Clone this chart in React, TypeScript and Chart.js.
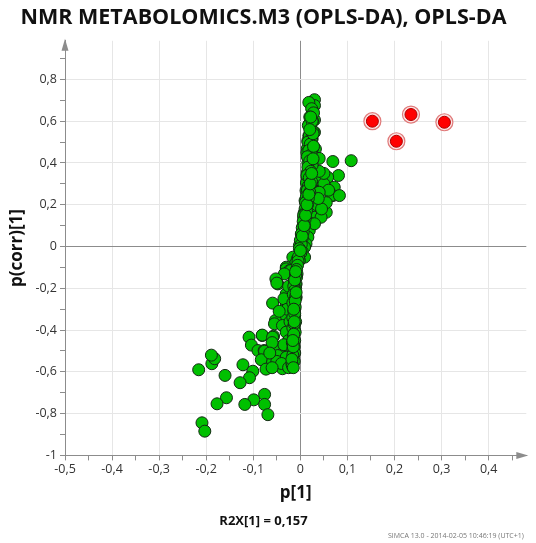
import React, { useEffect, useRef } from "react";
import { Chart, registerables } from "chart.js";

Chart.register(...registerables);

const titleText = "NMR METABOLOMICS.M3 (OPLS-DA), OPLS-DA";
const xTitle = "p[1]";
const yTitle = "p(corr)[1]";
const subText = "R2X[1] = 0,157";
const footerText = "SIMCA 13.0 - 2014-02-05 10:46:19 (UTC+1)";

const xTicks = [-0.5, -0.45, -0.4, -0.35, -0.3, -0.25, -0.2, -0.15, -0.1, -0.05, 0, 0.05, 0.1, 0.15, 0.2, 0.25, 0.3, 0.35, 0.4, 0.45];
const yTicks = [-1, -0.9, -0.8, -0.7, -0.6, -0.5, -0.4, -0.3, -0.2, -0.1, 0, 0.1, 0.2, 0.3, 0.4, 0.5, 0.6, 0.7, 0.8, 0.9];

// Red (class) points
const redP = [0.153, 0.204, 0.235, 0.306];
const redCorr = [0.6, 0.504, 0.632, 0.595];

// Green (variable) points: p[1]
const greenP = [
  0.030, 0.030, 0.026, 0.026, 0.030, 0.019, 0.022, 0.030, 0.018, 0.016,
  0.025, 0.023, 0.032, 0.015, 0.014, 0.020, 0.016, 0.040, 0.025, 0.016,
  0.023, 0.018, 0.026, 0.015, 0.033, 0.015, 0.023, 0.013, 0.019, 0.030,
  0.012, 0.037, 0.020, 0.010, 0.026, 0.012, 0.040, 0.026, 0.008, 0.030,
  0.007, 0.015, 0.023, 0.006, 0.019, 0.003, 0.012, 0.016, 0.001, 0.012,
  -0.002, 0.009, 0.004, -0.002, 0.009, -0.016, -0.006, -0.002, -0.010, -0.030,
  -0.030, -0.023, -0.020, -0.034, -0.007, -0.008, -0.052, -0.012, -0.048, -0.050,
  -0.009, -0.010, -0.023, -0.030, -0.009, -0.011, -0.059, -0.030, -0.012, -0.012,
  -0.016, -0.041, -0.038, -0.053, -0.013, -0.055, -0.038, -0.016, -0.016, -0.013,
  -0.013, -0.081, -0.109, -0.081, -0.057, -0.059, -0.014, -0.104, -0.020, -0.045,
  -0.090, -0.077, -0.045, -0.076, -0.014, -0.038, -0.020, -0.023, -0.048, -0.083,
  -0.016, -0.059, -0.027, -0.122, -0.188, -0.182, -0.189, -0.216, -0.073, -0.038,
  -0.101, -0.160, -0.108, -0.128, -0.076, -0.157, -0.099, -0.177, -0.118, -0.076,
  -0.069, -0.209, -0.203,
  0.069, 0.108, 0.081, 0.058, 0.072, 0.069, 0.047, 0.065, 0.047, 0.055,
  0.044, 0.030, 0.083,
  0.035, 0.050, 0.060, 0.040, 0.055, 0.035, 0.045, 0.038, 0.050, 0.040,
  -0.025, -0.035, -0.028, -0.045, -0.022, -0.030, -0.025, -0.035, -0.060, -0.030,
  -0.050, -0.065, -0.040, -0.060, -0.025,
  0.018, 0.024, 0.028, 0.020, 0.026, 0.017, 0.022, 0.027, 0.019, 0.024,
  0.016, 0.021, 0.026, 0.018, 0.023, 0.015, 0.020, 0.025, 0.016, 0.022,
  0.014, 0.019, 0.024,
  0.017, 0.015, 0.020, 0.013, 0.017, 0.011, 0.015, 0.010, 0.013, 0.007,
  0.010, 0.006, 0.009, 0.004, 0.006, 0.002, 0.004, 0.000, 0.002, -0.002,
  0.001, -0.004, -0.005, -0.006, -0.008, -0.010,
  -0.010, -0.013, -0.011, -0.014, -0.012, -0.015, -0.010, -0.013, -0.016, -0.011,
  -0.014, -0.012, -0.016, -0.010, -0.013, -0.016, -0.011, -0.015, -0.012, -0.017,
  -0.013, -0.016, -0.012, -0.015, -0.013, -0.018,
  -0.012, -0.013, -0.014, -0.015, -0.016, -0.017, -0.015, -0.013, -0.011, -0.009,
  -0.014, -0.016, -0.012, -0.010, -0.018, -0.015, 0.000, 0.004, 0.008, 0.011,
  0.014, 0.018, 0.021, 0.024, 0.027, 0.028, 0.027, 0.025, 0.022, 0.020
];
// Green (variable) points: p(corr)[1]
const greenCorr = [
  0.703, 0.675, 0.650, 0.635, 0.606, 0.587, 0.570, 0.547, 0.530, 0.507,
  0.515, 0.491, 0.467, 0.470, 0.450, 0.445, 0.427, 0.422, 0.410, 0.400,
  0.388, 0.375, 0.364, 0.355, 0.340, 0.330, 0.316, 0.305, 0.284, 0.295,
  0.268, 0.252, 0.240, 0.220, 0.200, 0.190, 0.188, 0.172, 0.160, 0.140,
  0.140, 0.120, 0.109, 0.100, 0.077, 0.061, 0.040, 0.045, 0.020, 0.013,
  0.005, -0.003, -0.025, -0.040, -0.051, -0.051, -0.059, -0.067, -0.080, -0.099,
  -0.107, -0.115, -0.115, -0.131, -0.131, -0.147, -0.155, -0.160, -0.179, -0.175,
  -0.179, -0.200, -0.210, -0.226, -0.243, -0.250, -0.271, -0.274, -0.280, -0.300,
  -0.322, -0.338, -0.338, -0.354, -0.350, -0.370, -0.378, -0.370, -0.394, -0.402,
  -0.400, -0.426, -0.434, -0.424, -0.429, -0.434, -0.440, -0.472, -0.466, -0.482,
  -0.498, -0.498, -0.498, -0.501, -0.500, -0.513, -0.513, -0.513, -0.522, -0.542,
  -0.545, -0.553, -0.561, -0.566, -0.561, -0.537, -0.520, -0.590, -0.587, -0.585,
  -0.597, -0.617, -0.628, -0.652, -0.708, -0.724, -0.734, -0.753, -0.756, -0.756,
  -0.805, -0.844, -0.884,
  0.407, 0.411, 0.340, 0.332, 0.284, 0.244, 0.284, 0.244, 0.156, 0.164,
  0.140, 0.109, 0.244,
  0.320, 0.300, 0.270, 0.260, 0.210, 0.200, 0.180, 0.230, 0.350, 0.360,
  -0.190, -0.250, -0.300, -0.310, -0.360, -0.410, -0.450, -0.470, -0.460, -0.530,
  -0.550, -0.510, -0.560, -0.580, -0.580,
  0.690, 0.660, 0.640, 0.620, 0.600, 0.580, 0.560, 0.550, 0.530, 0.520,
  0.500, 0.490, 0.470, 0.460, 0.440, 0.430, 0.410, 0.390, 0.380, 0.360,
  0.340, 0.330, 0.310,
  0.290, 0.270, 0.260, 0.240, 0.230, 0.210, 0.200, 0.180, 0.170, 0.150,
  0.130, 0.120, 0.100, 0.090, 0.070, 0.060, 0.040, 0.030, 0.010, -0.010,
  -0.030, -0.050, -0.070, -0.090, -0.110, -0.130,
  -0.140, -0.160, -0.180, -0.190, -0.210, -0.230, -0.240, -0.260, -0.270, -0.290,
  -0.310, -0.330, -0.340, -0.360, -0.380, -0.390, -0.410, -0.430, -0.450, -0.460,
  -0.480, -0.490, -0.510, -0.530, -0.550, -0.560,
  -0.320, -0.370, -0.420, -0.470, -0.520, -0.570, -0.480, -0.360, -0.260, -0.220,
  -0.300, -0.450, -0.160, -0.120, -0.540, -0.580, -0.020, 0.050, 0.100, 0.150,
  0.200, 0.250, 0.300, 0.350, 0.420, 0.480, 0.540, 0.600, 0.620, 0.560
];

const FONT = "'Open Sans', 'Noto Sans', sans-serif";

function fmt(v: number): string {
  const r = Math.round(v * 10) / 10;
  return String(r).replace(".", ",");
}
function isMult(v: number, step: number): boolean {
  const q = v / step;
  return Math.abs(q - Math.round(q)) < 1e-6;
}

const decorPlugin = {
  id: "decor",
  afterDraw(chart: any) {
    const { ctx, chartArea } = chart;
    const { left, right, top, bottom } = chartArea;
    ctx.save();
    ctx.fillStyle = "#8c8c8c";
    ctx.beginPath();
    ctx.moveTo(left, top - 2);
    ctx.lineTo(left - 3.5, top + 10);
    ctx.lineTo(left + 3.5, top + 10);
    ctx.closePath();
    ctx.fill();
    ctx.beginPath();
    ctx.moveTo(right + 2, bottom);
    ctx.lineTo(right - 10, bottom - 3.5);
    ctx.lineTo(right - 10, bottom + 3.5);
    ctx.closePath();
    ctx.fill();
    ctx.fillStyle = "#777";
    ctx.font = "7px " + FONT;
    ctx.textBaseline = "alphabetic";
    ctx.textAlign = "left";
    ctx.fillText(footerText, 388, 538);
    ctx.restore();
  },
};

export default function App() {
  const ref = useRef<HTMLCanvasElement | null>(null);
  useEffect(() => {
    if (!ref.current) return;
    const green = greenP.map((x, i) => ({ x, y: greenCorr[i] }));
    const red = redP.map((x, i) => ({ x, y: redCorr[i] }));
    const chart = new Chart(ref.current, {
      type: "scatter",
      data: {
        datasets: [
          {
            data: red,
            order: 0,
            pointRadius: 6,
            backgroundColor: "#ff0000",
            borderColor: "#b00000",
            borderWidth: 1,
          },
          {
            data: red,
            order: 1,
            pointRadius: 8.5,
            backgroundColor: "#fbe3e3",
            borderColor: "#e07a7a",
            borderWidth: 1.2,
          },
          {
            data: green,
            order: 2,
            pointRadius: 6,
            backgroundColor: "#00c000",
            borderColor: "#142814",
            borderWidth: 1,
          },
        ],
      },
      options: {
        animation: false,
        responsive: false,
        devicePixelRatio: 1,
        layout: { padding: { left: 0, right: 9, top: 0, bottom: 0 } },
        plugins: {
          legend: { display: false },
          tooltip: { enabled: false },
          title: {
            display: true,
            text: titleText,
            color: "#111",
            font: { family: FONT, size: 21.5, weight: "bold" },
            padding: { top: 5, bottom: 10 },
          },
          subtitle: {
            display: true,
            position: "bottom",
            text: subText,
            color: "#111",
            font: { family: FONT, size: 13, weight: "bold" },
            padding: { top: 4, bottom: 14 },
          },
        },
        scales: {
          x: {
            type: "linear",
            min: -0.5,
            max: 0.48,
            afterFit: (s: any) => {
              s.height = 54;
            },
            afterBuildTicks: (s: any) => {
              s.ticks = xTicks.map((v) => ({ value: v }));
            },
            ticks: {
              autoSkip: false,
              maxRotation: 0,
              padding: 2,
              color: "#333",
              font: { family: FONT, size: 12.5 },
              callback: (v: any) => (isMult(Number(v), 0.1) ? fmt(Number(v)) : ""),
            },
            grid: {
              color: (c: any) => {
                const v = c.tick ? c.tick.value : NaN;
                if (Math.abs(v) < 1e-9) return "#8c8c8c";
                if (isMult(v, 0.1)) return "#e6e6e6";
                return "rgba(0,0,0,0)";
              },
              tickColor: "#8c8c8c",
              tickLength: 5,
            },
            border: { display: true, color: "#8c8c8c" },
            title: {
              display: true,
              text: xTitle,
              color: "#111",
              font: { family: FONT, size: 17, weight: "bold" },
              padding: { top: 0, bottom: 6 },
            },
          },
          y: {
            type: "linear",
            min: -1,
            max: 0.985,
            afterFit: (s: any) => {
              s.width = 65;
            },
            afterBuildTicks: (s: any) => {
              s.ticks = yTicks.map((v) => ({ value: v }));
            },
            ticks: {
              autoSkip: false,
              padding: 3,
              color: "#333",
              font: { family: FONT, size: 12.5 },
              callback: (v: any) => (isMult(Number(v), 0.2) ? fmt(Number(v)) : ""),
            },
            grid: {
              color: (c: any) => {
                const v = c.tick ? c.tick.value : NaN;
                if (Math.abs(v) < 1e-9) return "#8c8c8c";
                if (isMult(v, 0.2)) return "#e6e6e6";
                return "rgba(0,0,0,0)";
              },
              tickColor: "#8c8c8c",
              tickLength: 5,
            },
            border: { display: true, color: "#8c8c8c" },
            title: {
              display: true,
              text: yTitle,
              color: "#111",
              font: { family: FONT, size: 17, weight: "bold" },
              padding: { top: 7, bottom: 0 },
            },
          },
        },
      },
      plugins: [decorPlugin],
    });
    return () => chart.destroy();
  }, []);
  return (
    <div style={{ position: "absolute", left: 0, top: 0, width: 536, height: 543, background: "#fff" }}>
      <canvas ref={ref} width={536} height={543} />
    </div>
  );
}
